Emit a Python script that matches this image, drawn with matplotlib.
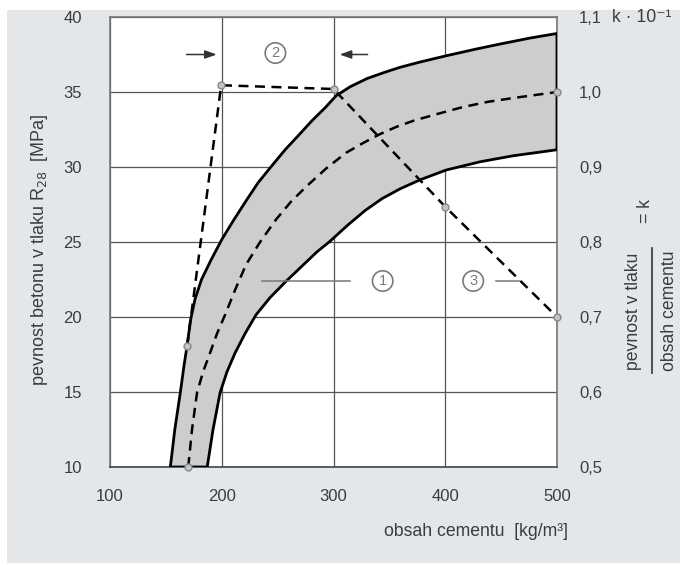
import matplotlib
matplotlib.use("Agg")
import matplotlib.pyplot as plt
import numpy as np
from matplotlib.patches import Rectangle
from matplotlib.lines import Line2D

plt.rcParams["font.family"] = ["Liberation Sans Narrow", "Liberation Sans", "DejaVu Sans"]

# band of concrete strength vs cement content
upper_x = [154, 158, 163, 166.3, 169, 172.1, 176.1, 181.9, 190.4, 200.3, 211, 221.8, 232.5,
           245, 256.7, 269.2, 280.9, 292.5, 302.4, 314.9, 330.1, 345.3, 359.7, 377.6, 400,
           426.8, 449.2, 476.1, 500]
upper_r = [10, 12.5, 15, 16.8, 18.1, 19.8, 21.2, 22.5, 23.8, 25.2, 26.5, 27.75, 28.95,
           30.1, 31.15, 32.15, 33.1, 33.95, 34.75, 35.35, 35.9, 36.3, 36.65, 37.0, 37.4,
           37.85, 38.2, 38.6, 38.9]
lower_x = [187, 192.2, 198.5, 204.7, 211.9, 220.9, 230.7, 243.3, 257.1, 271.9, 285.3, 296.1,
           313.1, 328.3, 343.6, 359.7, 377.6, 400.9, 431.3, 460.9, 500]
lower_r = [10, 12.5, 14.95, 16.35, 17.6, 18.9, 20.15, 21.3, 22.35, 23.4, 24.35, 25.0,
           26.15, 27.1, 27.9, 28.55, 29.15, 29.8, 30.35, 30.75, 31.15]
mid_x = [170, 173.4, 177.9, 183.3, 189.5, 195.8, 203, 211.9, 221.8, 234.3, 248.6, 262.1,
         276.4, 293.4, 311.3, 326.5, 341.8, 357, 372.2, 393.6, 416, 438.5, 460.9, 480.6, 500]
mid_r = [10, 12.5, 14.96, 16.35, 17.6, 18.9, 20.15, 21.8, 23.5, 25.0, 26.5, 27.7,
         28.75, 29.9, 30.95, 31.6, 32.2, 32.7, 33.1, 33.55, 34.0, 34.35, 34.6, 34.8, 35.0]

# k = strength / cement content (right axis)
k_x = [169, 199.5, 300, 400, 500]
k_val = [0.661, 1.009, 1.004, 0.847, 0.70]

x_ticks = [100, 200, 300, 400, 500]
r_ticks = [10, 15, 20, 25, 30, 35, 40]
k_ticks = [0.5, 0.6, 0.7, 0.8, 0.9, 1.0, 1.1]
k_labels = ["0,5", "0,6", "0,7", "0,8", "0,9", "1,0", "1,1"]

txt = "#3c3c3c"
W, H = 680, 565
fig = plt.figure(figsize=(W / 100, H / 100), dpi=100, facecolor="white")
fig.add_artist(Rectangle((7 / W, 2 / H), 1 - 7 / W, 1 - 12 / H, transform=fig.transFigure,
                         facecolor="#e4e7ea", edgecolor="none", zorder=-10))

ax = fig.add_axes([110 / W, 1 - 467 / H, (557 - 110) / W, (467 - 17) / H])
ax.set_facecolor("white")
ax.set_xlim(100, 500)
ax.set_ylim(10, 40)
ax.set_xticks(x_ticks)
ax.set_yticks(r_ticks)
ax.grid(True, color="#555555", lw=0.9)
ax.set_axisbelow(True)
ax.tick_params(length=0, labelsize=12, labelcolor=txt)
ax.tick_params(axis="y", pad=20)
ax.tick_params(axis="x", pad=16)
for s in ax.spines.values():
    s.set_color("#777777")
    s.set_linewidth(1.2)
ax.spines["bottom"].set_color("#444444")

# grey band
bx = np.concatenate([upper_x, lower_x[::-1]])
by = np.concatenate([upper_r, lower_r[::-1]])
ax.fill(bx, by, facecolor="#cdcdcd", edgecolor="black", lw=2.0, zorder=3, joinstyle="round")

# middle dashed curve
ax.plot(mid_x, mid_r, color="black", lw=1.8, dashes=(4, 2.6), zorder=4)
ax.plot([mid_x[0], mid_x[-1]], [mid_r[0], mid_r[-1]], "o", ms=5, mfc="#c4c4c4",
        mec="#888888", mew=1, zorder=6, clip_on=False)

# annotations
circ = dict(boxstyle="circle,pad=0.22", fc="white", ec="#7a7a7a", lw=1.2)
ax.text(248, 37.6, "2", ha="center", va="center", fontsize=10.5, color="#7a7a7a", bbox=circ, zorder=5)
ax.text(344, 22.4, "1", ha="center", va="center", fontsize=10.5, color="#7a7a7a", bbox=circ, zorder=5)
ax.text(425, 22.4, "3", ha="center", va="center", fontsize=10.5, color="#7a7a7a", bbox=circ, zorder=5)
ax.plot([236, 315], [22.4, 22.4], color="#777777", lw=1.1, zorder=5)
ax.plot([445, 466], [22.4, 22.4], color="#777777", lw=1.1, zorder=5)
ax.annotate("", xy=(198, 37.5), xytext=(166, 37.5),
            arrowprops=dict(arrowstyle="-|>,head_length=0.7,head_width=0.25", color="#333333", lw=1.1))
ax.annotate("", xy=(303, 37.5), xytext=(333, 37.5),
            arrowprops=dict(arrowstyle="-|>,head_length=0.7,head_width=0.25", color="#333333", lw=1.1))

# right axis with k line
ax2 = ax.twinx()
ax2.set_ylim(0.5, 1.1)
ax2.set_yticks(k_ticks)
ax2.set_yticklabels(k_labels)
ax2.tick_params(length=0, labelsize=12, labelcolor=txt, pad=16)
for s in ax2.spines.values():
    s.set_visible(False)
ax2.plot(k_x, k_val, color="black", lw=1.8, dashes=(4, 2.6), zorder=4)
ax2.plot(k_x, k_val, "o", ms=5, mfc="#c4c4c4", mec="#888888", mew=1, zorder=6, clip_on=False)

# labels
fig.text(40 / W, 1 - 250 / H, "pevnost betonu v tlaku R$_{28}$  [MPa]", rotation=90,
         ha="center", va="center", fontsize=13, color=txt)
fig.text(568 / W, 1 - 531 / H, "obsah cementu  [kg/m³]", ha="right", va="center",
         fontsize=12.7, color=txt)
fig.text(612 / W, 1 - 18 / H, "k · 10⁻¹", ha="left", va="center", fontsize=12.7, color=txt)
fig.text(633 / W, 1 - 311 / H, "pevnost v tlaku", rotation=90, ha="center", va="center",
         fontsize=12.7, color=txt)
fig.text(669 / W, 1 - 311 / H, "obsah cementu", rotation=90, ha="center", va="center",
         fontsize=12.7, color=txt)
fig.text(645 / W, 1 - 211 / H, "= k", rotation=90, ha="center", va="center",
         fontsize=12.7, color=txt)
fig.add_artist(Line2D([652 / W, 652 / W], [1 - 248 / H, 1 - 373 / H], color="#333333", lw=1.2))

fig.savefig("out.png", dpi=100, facecolor=fig.get_facecolor())
